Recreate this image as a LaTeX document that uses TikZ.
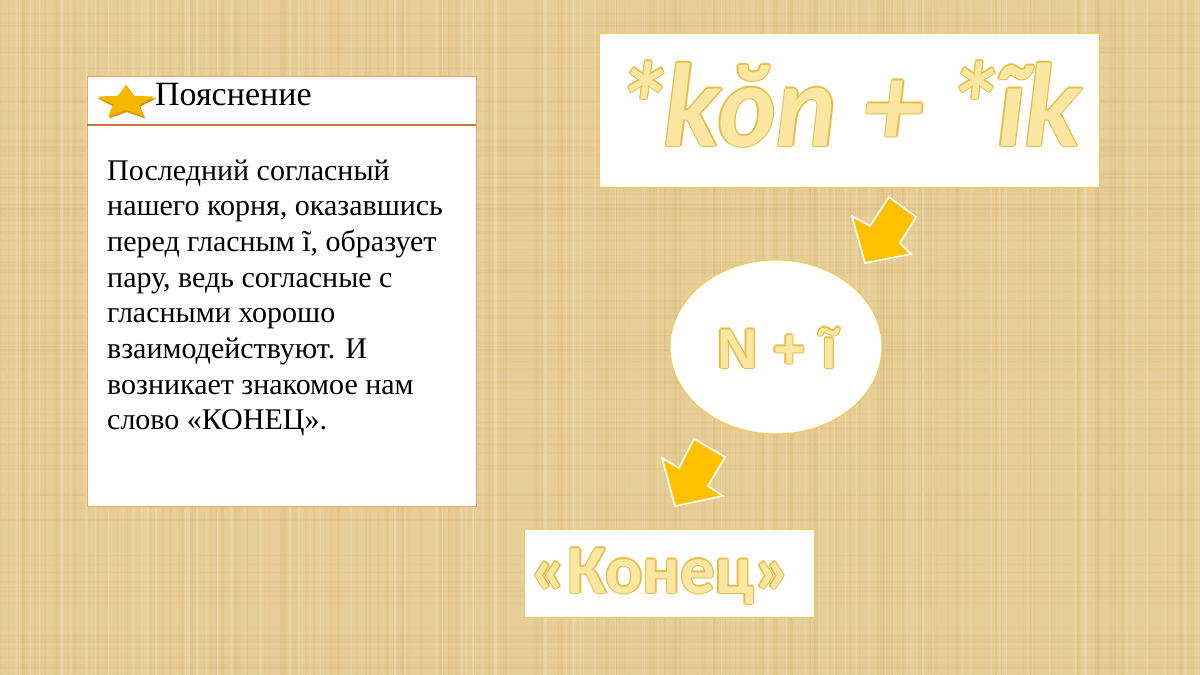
\documentclass[tikz,border=0pt]{standalone}
\usepackage{fontspec}
\setmainfont{Liberation Serif}
\newfontfamily\scrfont{Lato}
\newfontfamily\arialf{Liberation Sans}
\newfontfamily\calf{Carlito}
\usetikzlibrary{calc,shapes.geometric}
\definecolor{paper}{HTML}{E7CE96}
\definecolor{paperdark}{HTML}{CDAB68}
\definecolor{paperlight}{HTML}{F3E2B6}
\definecolor{boxedge}{HTML}{E0A96C}
\definecolor{headline}{HTML}{C8783C}
\definecolor{goldedge}{HTML}{F2CC55}
\definecolor{arrowfill}{HTML}{FFC000}
\definecolor{txtfill}{HTML}{FCE7A2}
\definecolor{txtline}{HTML}{E6BD48}
\definecolor{stargold}{HTML}{F5B700}
\definecolor{stardark}{HTML}{D89A00}
\tikzset{
  whitebox/.style={fill=white, draw=goldedge, line width=1pt},
  blockarrow/.style={fill=arrowfill, draw=white, line width=1.6pt, line join=miter},
  bodytext/.style={anchor=base west, inner sep=0pt, font=\fontsize{30}{36}\selectfont, text=black},
}
\newcommand{\outlinedtext}[4]{% name, position, font, text
  \foreach \ang in {0,45,...,315}
    \node[inner sep=0pt, anchor=base, text=txtline, font=#3] (#1-o\ang) at ($(#2)+(\ang:1.3)$) {#4};
  \node[inner sep=0pt, anchor=base, text=txtfill, font=#3] (#1) at (#2) {#4};
}
\begin{document}
\begin{tikzpicture}[x=1pt,y=-1pt]
\useasboundingbox (0,0) rectangle (1200,675);
% background
\fill[paper] (0,0) rectangle (1200,675);
\pgfmathsetseed{11}
\foreach \i in {1,...,220}{
  \pgfmathsetmacro\xx{rnd*1200}
  \pgfmathsetmacro\ww{0.5+rnd*2.5}
  \pgfmathsetmacro\op{0.06+rnd*0.14}
  \draw[paperdark, line width=\ww pt, opacity=\op] (\xx,0) -- (\xx,675);
}
\foreach \i in {1,...,140}{
  \pgfmathsetmacro\yy{rnd*675}
  \pgfmathsetmacro\ww{0.5+rnd*2}
  \pgfmathsetmacro\op{0.06+rnd*0.12}
  \draw[paperdark, line width=\ww pt, opacity=\op] (0,\yy) -- (1200,\yy);
}
\foreach \i in {1,...,140}{
  \pgfmathsetmacro\xx{rnd*1200}
  \pgfmathsetmacro\ww{0.5+rnd*2}
  \pgfmathsetmacro\op{0.15+rnd*0.3}
  \draw[paperlight, line width=\ww pt, opacity=\op] (\xx,0) -- (\xx,675);
}

% left explanation box
\draw[fill=white, draw=boxedge, line width=1pt] (87,76) rectangle (476,506);
\draw[headline, line width=1.6pt] (87,125) -- (476,125);
\coordinate (starc) at (126,102);
\fill[stardark, shift={(127,104)}, yscale=0.58]
  (-90:31) \foreach \k in {1,...,9}{ -- ({-90+36*\k}:{mod(\k,2)==0 ? 31 : 14}) } -- cycle;
\fill[stargold, shift={(starc)}, yscale=0.58]
  (-90:30) \foreach \k in {1,...,9}{ -- ({-90+36*\k}:{mod(\k,2)==0 ? 30 : 13.5}) } -- cycle;
\node[anchor=base west, inner sep=0pt, font=\fontsize{34}{40}\selectfont] (title) at (155,105) {Пояснение};
\foreach \t [count=\i] in {{Последний согласный},{нашего корня, оказавшись},{перед гласным ĩ, образует},{пару, ведь согласные с},{гласными хорошо},{взаимодействуют. И},{возникает знакомое нам},{слово «КОНЕЦ».}}
  \node[bodytext] (l\i) at (107,{180+35.7*(\i-1)}) {\t};

% top right box
\draw[whitebox] (599,33) rectangle (1099,187);
\coordinate (ptop) at (851,146);
\outlinedtext{toptext}{ptop}{\scrfont\bfseries\itshape\fontsize{112}{120}\selectfont}{*kŏn + *ĩk}

% ellipse
\node[whitebox, ellipse, minimum width=212, minimum height=174, inner sep=0pt] (ell) at (776,347) {};
\coordinate (pmid) at (777,368);
\outlinedtext{midtext}{pmid}{\arialf\bfseries\fontsize{56}{62}\selectfont}{N + ĩ}

% bottom box
\draw[whitebox] (524,529) rectangle (814,617);
\coordinate (pbot) at (661,593);
\outlinedtext{bottext}{pbot}{\calf\bfseries\fontsize{69}{74}\selectfont}{«Конец»}

% arrows
\draw[blockarrow] (889,197) -- (916,217) -- (900,243) -- (911,254) -- (865,263) -- (852,216) -- (870,226) -- cycle;
\draw[blockarrow] (694,439) -- (725,457) -- (708,486) -- (723,496) -- (675,506) -- (662,458) -- (679,468) -- cycle;
\end{tikzpicture}
\end{document}
